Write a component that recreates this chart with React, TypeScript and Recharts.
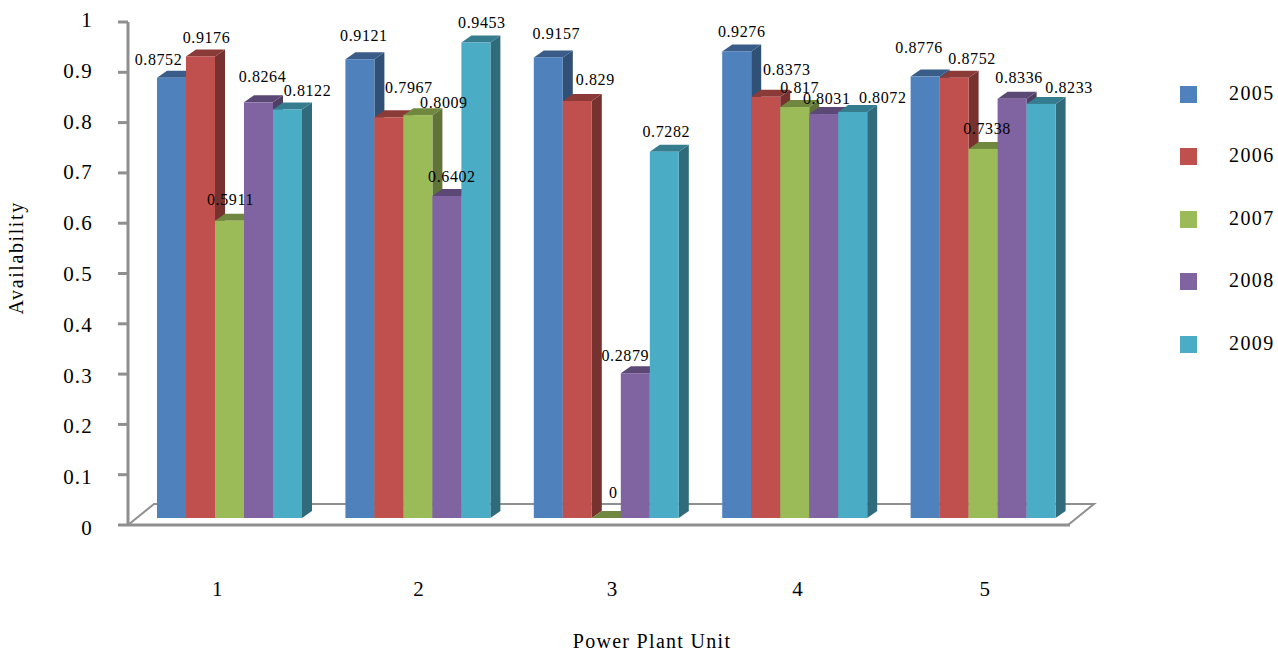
import React from 'react'
import { BarChart, Bar, XAxis, YAxis, LabelList, Legend } from 'recharts'

const units = ['1', '2', '3', '4', '5']
const years = ['2005', '2006', '2007', '2008', '2009']
const yTicks = [0, 0.1, 0.2, 0.3, 0.4, 0.5, 0.6, 0.7, 0.8, 0.9, 1]

const values2005 = [0.8752, 0.9121, 0.9157, 0.9276, 0.8776]
const values2006 = [0.9176, 0.7967, 0.829, 0.8373, 0.8752]
const values2007 = [0.5911, 0.8009, 0, 0.817, 0.7338]
const values2008 = [0.8264, 0.6402, 0.2879, 0.8031, 0.8336]
const values2009 = [0.8122, 0.9453, 0.7282, 0.8072, 0.8233]

const seriesValues = [values2005, values2006, values2007, values2008, values2009]
const colors = ['#4F81BD', '#C0504D', '#9BBB59', '#8064A2', '#4BACC6']

const data = units.map((unit, i) => {
  const row: Record<string, string | number> = { unit }
  years.forEach((year, s) => {
    row[year] = seriesValues[s][i]
  })
  return row
})

const WIDTH = 1278
const HEIGHT = 652
const PLOT_LEFT = 128
const PLOT_RIGHT = 1068
const PLOT_TOP = 22
const PLOT_BOTTOM = 525

// oblique projection: bars stand halfway back on the floor
const SHIFT_X = 7
const SHIFT_Y = -7
const DEPTH_X = 10
const DEPTH_Y = -7
const FLOOR_X = 26
const FLOOR_Y = -21

const GREY = '#8f8f8f'
const FONT = '"Liberation Serif", serif'

// the labels were placed by hand in the original, [dx, dy] from the top of each bar
const labelNudges = [
  [[-13, -18], [6, -19], [1, -21], [4, -26], [20, -19]],
  [[4, -24], [20, -30], [26, -13], [5, -19], [6, -20]],
  [[8, -24], [18, -22], [7, -26], [-10, -18], [2, -20]],
  [[5, -20], [21, -27], [5, -20], [3, -16], [30, -14]],
  [[-6, -29], [18, -19], [4, -20], [7, -21], [28, -16]],
]
const xLabelNudges = [-12, 1, 6, 3, 2]

function shade(hex: string, k: number) {
  const n = parseInt(hex.slice(1), 16)
  const c = [(n >> 16) & 255, (n >> 8) & 255, n & 255].map((v) => Math.round(v * k))
  return `rgb(${c[0]},${c[1]},${c[2]})`
}

function Bar3D(props: any) {
  const { x, y, width, height, fill } = props
  const l = x + SHIFT_X
  const r = l + width
  const t = y + SHIFT_Y
  const b = t + height
  const side = `${r},${t} ${r + DEPTH_X},${t + DEPTH_Y} ${r + DEPTH_X},${b + DEPTH_Y} ${r},${b}`
  const top = `${l},${t} ${l + DEPTH_X},${t + DEPTH_Y} ${r + DEPTH_X},${t + DEPTH_Y} ${r},${t}`
  return (
    <g>
      <polygon points={side} fill={shade(fill, 0.62)} />
      <polygon points={top} fill={shade(fill, 0.72)} />
      <rect x={l} y={t} width={width} height={height} fill={fill} />
    </g>
  )
}

function makeValueLabel(seriesIndex: number) {
  return function ValueLabel(props: any) {
    const box = props.viewBox ?? props
    const [dx, dy] = labelNudges[props.index][seriesIndex]
    return (
      <text
        x={box.x + SHIFT_X + box.width / 2 + dx}
        y={box.y + SHIFT_Y + dy}
        textAnchor="middle"
        dominantBaseline="central"
        fontFamily={FONT}
        fontSize={16}
        letterSpacing={0.6}
        fill="#000"
      >
        {props.value}
      </text>
    )
  }
}

function YTick(props: any) {
  const { y, payload } = props
  return (
    <text
      x={93}
      y={y + 3 - 5 * payload.value}
      textAnchor="end"
      dominantBaseline="central"
      fontFamily={FONT}
      fontSize={21}
      letterSpacing={1.2}
      fill="#000"
    >
      {payload.value}
    </text>
  )
}

function XTick(props: any) {
  const { x, payload, index } = props
  return (
    <text
      x={x + SHIFT_X + xLabelNudges[index]}
      y={589}
      textAnchor="middle"
      dominantBaseline="central"
      fontFamily={FONT}
      fontSize={21}
      fill="#000"
    >
      {payload.value}
    </text>
  )
}

function Floor() {
  const points = [
    [PLOT_LEFT, PLOT_BOTTOM],
    [PLOT_LEFT + FLOOR_X, PLOT_BOTTOM + FLOOR_Y],
    [PLOT_RIGHT + FLOOR_X, PLOT_BOTTOM + FLOOR_Y],
    [PLOT_RIGHT, PLOT_BOTTOM],
  ]
    .map((p) => p.join(','))
    .join(' ')
  return <polyline points={points} fill="none" stroke={GREY} strokeWidth={2} />
}

function LegendList(props: any) {
  return (
    <div style={{ width: 98 }}>
      {props.payload.map((entry: any) => (
        <div key={entry.value} style={{ height: 62.4, display: 'flex', alignItems: 'flex-start' }}>
          <span style={{ width: 17, height: 17, marginTop: 7, background: entry.color }} />
          <span style={{ marginLeft: 32, fontFamily: FONT, fontSize: 20, letterSpacing: 1.4, lineHeight: '28px', color: '#000' }}>
            {entry.value}
          </span>
        </div>
      ))}
    </div>
  )
}

export default function App() {
  return (
    <div style={{ position: 'absolute', left: 0, top: 0, width: WIDTH, height: HEIGHT, background: '#fff' }}>
      <BarChart
        width={WIDTH}
        height={HEIGHT}
        data={data}
        barCategoryGap={22}
        barGap={0}
        margin={{ top: PLOT_TOP, right: 110, bottom: 0, left: 0 }}
      >
        <Floor />
        <XAxis
          dataKey="unit"
          height={HEIGHT - PLOT_BOTTOM}
          stroke={GREY}
          strokeWidth={3}
          tickLine={false}
          tick={<XTick />}
          interval={0}
          label={{
            value: 'Power Plant Unit',
            position: 'insideBottom',
            offset: 4,
            dx: 53,
            fontFamily: FONT,
            fontSize: 20,
            letterSpacing: 1.3,
            fill: '#000',
          }}
        />
        <YAxis
          width={PLOT_LEFT}
          domain={[0, 1]}
          ticks={yTicks}
          interval={0}
          stroke={GREY}
          strokeWidth={3}
          tickSize={10}
          tick={<YTick />}
          label={{
            value: 'Availability',
            angle: -90,
            position: 'insideLeft',
            dx: 11,
            dy: 41,
            fontFamily: FONT,
            fontSize: 20,
            letterSpacing: 1.6,
            fill: '#000',
          }}
        />
        <Legend
          layout="vertical"
          align="right"
          verticalAlign="top"
          content={<LegendList />}
          wrapperStyle={{ left: 1180, right: 'auto', top: 79, width: 98 }}
        />
        {years.map((year, s) => (
          <Bar key={year} dataKey={year} fill={colors[s]} shape={<Bar3D />} isAnimationActive={false}>
            <LabelList dataKey={year} content={makeValueLabel(s)} />
          </Bar>
        ))}
      </BarChart>
    </div>
  )
}
